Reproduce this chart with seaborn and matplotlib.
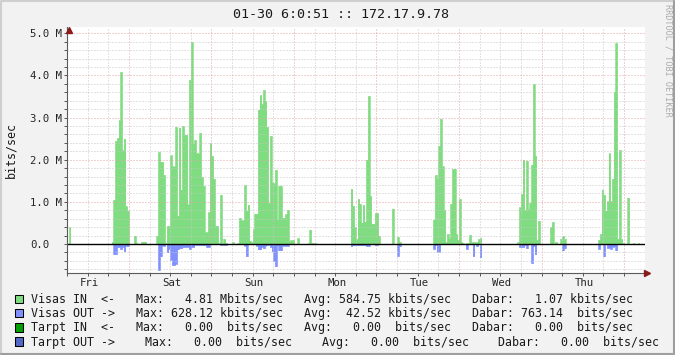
import numpy as np
import pandas as pd
import matplotlib
matplotlib.use("Agg")
import matplotlib.pyplot as plt
import matplotlib.transforms as mtransforms
from matplotlib.patches import Rectangle
from matplotlib.lines import Line2D
import seaborn as sns

# ---------------- data: Mbits/sec, 30-minute samples, hours from Fri 00:00 ----------------
STEP_H = 0.5
T_FIRST, T_LAST = 6.5, 174.0

in_starts = [6.5, 19.0, 32.0, 54.0, 88.5, 112.5, 137.0, 160.5]
in_early = [0.4]
in_fri = [0.05, 1.05, 2.44, 2.52, 2.94, 4.08, 2.23, 2.5, 0.89, 0.79,
          0, 0, 0, 0.2, 0.03, 0, 0, 0.05, 0.05, 0.05]
in_sat = [0.2, 2.18, 1.95, 1.95, 1.64, 0.02, 0.43, 0.43, 2.1, 1.84,
          1.84, 2.78, 0.67, 2.76, 1.29, 2.8, 2.59, 2.59, 0.94, 3.9,
          4.79, 2.39, 2.47, 2.15, 2.15, 2.64, 1.6, 1.38, 0.28, 0.28,
          0.75, 2.39, 2.09, 1.55, 0.43, 0.43, 0.02, 1.17, 0.02, 0.12, 0.02]
in_sun = [0.04, 0, 0, 0.02, 0.62, 0.56, 0.56, 1.4, 0.79, 0.93,
          0.08, 0.05, 0.35, 0.72, 0.72, 3.19, 3.53, 3.32, 3.65, 3.39,
          2.78, 0.97, 2.56, 1.46, 1.44, 1.76, 0.58, 1.38, 1.38, 0.62,
          0.62, 0.71, 0.81, 0.07, 0.09, 0.09, 0, 0, 0.14, 0,
          0, 0, 0, 0, 0.02, 0.34, 0.02, 0.02, 0.02]
in_mon = [1.31, 0.91, 0.4, 0.12, 1.07, 0.95, 0.51, 0.93, 0.53, 2.0,
          3.51, 1.14, 0.48, 0.48, 0.73, 0.73, 0.2, 0, 0, 0,
          0, 0, 0, 0, 0.84, 0, 0, 0.17, 0.05]
in_tue = [0.58, 1.63, 1.55, 2.33, 2.97, 1.84, 0.81, 0.05, 0.24, 0.14,
          0.95, 1.78, 1.78, 0.24, 0.1, 1.06, 0.05, 0.02, 0, 0.02,
          0, 0.22, 0.04, 0.04, 0.04, 0.04, 0.12, 0.14]
in_wed = [0.04, 0.87, 1.18, 2.0, 0.81, 1.97, 0.83, 0.97, 1.88, 3.79,
          2.09, 0.1, 0.55, 0, 0, 0, 0, 0, 0, 0.4,
          0.52, 0, 0.04, 0, 0, 0.12, 0.2, 0.12]
in_thu = [0.1, 0.24, 1.29, 1.17, 0.79, 1.01, 2.15, 1.01, 1.55, 3.61,
          4.77, 0.12, 2.23, 0.12, 0.02, 0, 0, 1.1, 0, 0,
          0.02, 0, 0, 0.02]

out_starts = [19.0, 32.5, 57.5, 88.5, 112.5, 137.5, 160.5]
out_fri = [0, 0.24, 0.24, 0.07, 0.07, 0.12, 0.07, 0.17, 0.05, 0.05]
out_sat = [0.62, 0.29, 0.04, 0.04, 0, 0.2, 0.12, 0.37, 0.5, 0.5,
           0.47, 0.13, 0.1, 0.1, 0.07, 0.07, 0.07, 0.07, 0.12, 0.07,
           0.07, 0.02, 0.02, 0.02, 0.02, 0.02, 0.02, 0.02, 0.07, 0.07,
           0, 0, 0, 0, 0, 0, 0.02, 0.02, 0.02, 0.02]
out_sun = [0.04, 0.29, 0, 0, 0, 0, 0, 0.04, 0.13, 0.13,
           0.07, 0.1, 0.04, 0.02, 0.02, 0.07, 0.17, 0.41, 0.53, 0.04,
           0.15, 0.15, 0.04, 0.04, 0.04, 0.04]
out_mon = [0.05, 0.03, 0.03, 0.03, 0.03, 0.03, 0.03, 0.03, 0.03, 0.05,
           0.05, 0, 0, 0, 0.03, 0.03, 0, 0, 0, 0,
           0, 0, 0, 0, 0, 0, 0, 0.28, 0.05]
out_tue = [0.11, 0.03, 0.18, 0.18, 0, 0, 0, 0, 0, 0,
           0, 0, 0, 0, 0, 0, 0, 0, 0, 0.11,
           0, 0, 0, 0.29, 0, 0.05, 0, 0.32]
out_wed = [0.07, 0.07, 0.07, 0.03, 0.1, 0, 0, 0.45, 0.05, 0.24,
           0, 0, 0, 0, 0, 0, 0, 0, 0, 0,
           0, 0, 0, 0, 0, 0.15, 0.1]
out_thu = [0.11, 0, 0, 0.29, 0, 0.09, 0.09, 0.11, 0.06, 0.06, 0.15]

day_labels = ["Fri", "Sat", "Sun", "Mon", "Tue", "Wed", "Thu"]
ytick_values = [0, 1, 2, 3, 4, 5]
ytick_labels = ["0.0", "1.0 M", "2.0 M", "3.0 M", "4.0 M", "5.0 M"]

title_text = "01-30 6:0:51 :: 172.17.9.78"
ylabel_text = "bits/sec"
watermark_text = "RRDTOOL / TOBI OETIKER"

legend_names = ["Visas IN  <-", "Visas OUT ->", "Tarpt IN  <-", "Tarpt OUT ->"]
legend_max = ["  4.81 Mbits/sec", "628.12 kbits/sec", "  0.00  bits/sec", "  0.00  bits/sec"]
legend_avg = ["584.75 kbits/sec", " 42.52 kbits/sec", "  0.00  bits/sec", "  0.00  bits/sec"]
legend_last = ["  1.07 kbits/sec", "763.14  bits/sec", "  0.00  bits/sec", "  0.00  bits/sec"]

C_IN = "#80DC80"
C_OUT = "#8090FF"
C_TIN = "#00A000"
C_TOUT = "#5468C8"
legend_colors = [C_IN, C_OUT, C_TIN, C_TOUT]

# ---------------- assemble series on the sample grid ----------------
n_bins = int(round((T_LAST - T_FIRST) / STEP_H))
edges = T_FIRST + STEP_H * np.arange(n_bins + 1)
rate_in = np.zeros(n_bins)
rate_out = np.zeros(n_bins)
for s, vals in zip(in_starts, [in_early, in_fri, in_sat, in_sun, in_mon, in_tue, in_wed, in_thu]):
    i = int(round((s - T_FIRST) / STEP_H))
    rate_in[i:i + len(vals)] = vals
for s, vals in zip(out_starts, [out_fri, out_sat, out_sun, out_mon, out_tue, out_wed, out_thu]):
    i = int(round((s - T_FIRST) / STEP_H))
    rate_out[i:i + len(vals)] = vals
df = pd.DataFrame({"t": edges,
                   "in": np.append(rate_in, rate_in[-1]),
                   "out": -np.append(rate_out, rate_out[-1])})

# ---------------- figure ----------------
sns.set_style("white")
MONO = "DejaVu Sans Mono"
plt.rcParams["font.family"] = [MONO, "DejaVu Sans"]

W, H = 675, 355
fig = plt.figure(figsize=(W / 100, H / 100), dpi=100, facecolor="#F2F2F2")


def fx(x):
    return x / W


def fy(y):
    return 1 - y / H


AX_L, AX_R, AX_T, AX_B = 67, 645, 27, 273.3
ax = fig.add_axes([fx(AX_L), fy(AX_B), (AX_R - AX_L) / W, (AX_B - AX_T) / H])
ax.set_facecolor("white")

# step areas (rrdtool AREA): seaborn draws the step outline, the fill follows it
for col, colour in [("in", C_IN), ("out", C_OUT)]:
    sns.lineplot(data=df, x="t", y=col, drawstyle="steps-post", color=colour,
                 lw=0.5, ax=ax, zorder=1.1, legend=False)
    ax.fill_between(df["t"], 0, df[col], step="post", color=colour, lw=0,
                    zorder=1, antialiased=False)

XMIN, XMAX = 6.6, 174.1
YMIN, YMAX = -0.695, 5.148
ax.set_xlim(XMIN, XMAX)
ax.set_ylim(YMIN, YMAX)
ax.set_xlabel("")
ax.set_ylabel("")

# grid (rrdtool draws it over the data)
GRAY = "#C8C8C8"
RED = "#E2A4A4"
dots = (0, (1, 2))
for x in np.arange(12, 175, 6):
    if x % 24 == 0:
        continue
    ax.axvline(x, color=GRAY, lw=0.72, ls=dots, zorder=3)
for x in np.arange(24, 169, 24):
    ax.axvline(x, color=RED, lw=0.72, ls=dots, zorder=3)
for k in range(-3, 26):
    if k % 5 == 0:
        continue
    ax.axhline(k * 0.2, color=GRAY, lw=0.72, ls=dots, zorder=3)
for y in ytick_values[1:]:
    ax.axhline(y, color=RED, lw=0.72, ls=dots, zorder=3)
ax.axhline(0, color="black", lw=1.0, zorder=4)

# axes lines
for side in ["top", "right"]:
    ax.spines[side].set_visible(False)
for side in ["left", "bottom"]:
    ax.spines[side].set_color("#5A5A5A")
    ax.spines[side].set_linewidth(0.8)
    ax.spines[side].set_zorder(5)

ax.plot([XMIN], [5.07], marker="^", ms=4.2, color="#8B1A1A", clip_on=False, zorder=6)
ax.plot([174.75], [YMIN], marker=">", ms=4.2, color="#8B1A1A", clip_on=False, zorder=6)

# ticks
ax.set_xticks(np.arange(12, 173, 24))
ax.set_xticklabels(day_labels)
ax.set_xticks(np.arange(6, 175, 6), minor=True)
ax.tick_params(axis="x", which="both", direction="out", length=2.2, width=0.72,
               color="#5A5A5A", pad=1.0, labelsize=7.65, bottom=True)
shift = mtransforms.ScaledTranslation(1.5 / 100, 0, fig.dpi_scale_trans)
for lab in ax.get_xticklabels():
    lab.set_transform(lab.get_transform() + shift)
    lab.set_fontfamily(MONO)

ax.set_yticks(ytick_values)
ax.set_yticklabels(ytick_labels)
ax.set_yticks(np.arange(-0.6, 5.01, 0.2), minor=True)
ax.tick_params(axis="y", which="both", direction="out", length=2.2, width=0.72,
               color="#5A5A5A", pad=24.1, labelsize=7.65, left=True)
for lab in ax.get_yticklabels():
    lab.set_horizontalalignment("left")
    lab.set_fontfamily(MONO)

# texts
fig.text(fx(341), fy(18.3), title_text, ha="center", va="baseline",
         family=MONO, size=9.65, color="#1A1A1A")
fig.text(fx(10.8), fy(150), ylabel_text, rotation=90, ha="center", va="center",
         family=MONO, size=8.38, color="#1A1A1A")
fig.text(fx(668), fy(60), watermark_text, rotation=270, ha="center", va="center",
         family=MONO, size=6.1, color="#ABABAB")

# legend
LEG_SIZE = 8.385
for i in range(4):
    top = 294.7 + 14.25 * i
    fig.patches.append(Rectangle((fx(15), fy(top + 8.5)), 8 / W, 8.5 / H,
                                 transform=fig.transFigure, facecolor=legend_colors[i],
                                 edgecolor="black", lw=0.75))
    base = 302.7 + 14.33 * i
    if i < 3:
        row = (legend_names[i] + "   Max: " + legend_max[i] + "   Avg: " + legend_avg[i]
               + "   Dabar: " + legend_last[i])
        fig.text(fx(30.7), fy(base), row, ha="left", va="baseline",
                 family=MONO, size=LEG_SIZE, color="#1A1A1A")
    else:
        parts = [(30.7, legend_names[i]),
                 (145.0, "Max: " + legend_max[i]),
                 (321.9, "Avg: " + legend_avg[i]),
                 (498.0, "Dabar: " + legend_last[i])]
        for x0, txt in parts:
            fig.text(fx(x0), fy(base), txt, ha="left", va="baseline",
                     family=MONO, size=LEG_SIZE, color="#1A1A1A")

# frame
fig.lines.append(Line2D([fx(1), fx(1), fx(W - 1)], [fy(H - 1), fy(1), fy(1)],
                        transform=fig.transFigure, color="#CFCFCF", lw=1.5))
fig.lines.append(Line2D([fx(1), fx(W - 1), fx(W - 1)], [fy(H - 1), fy(H - 1), fy(1)],
                        transform=fig.transFigure, color="#9E9E9E", lw=1.5))

fig.savefig("out.png", dpi=100, facecolor=fig.get_facecolor())
